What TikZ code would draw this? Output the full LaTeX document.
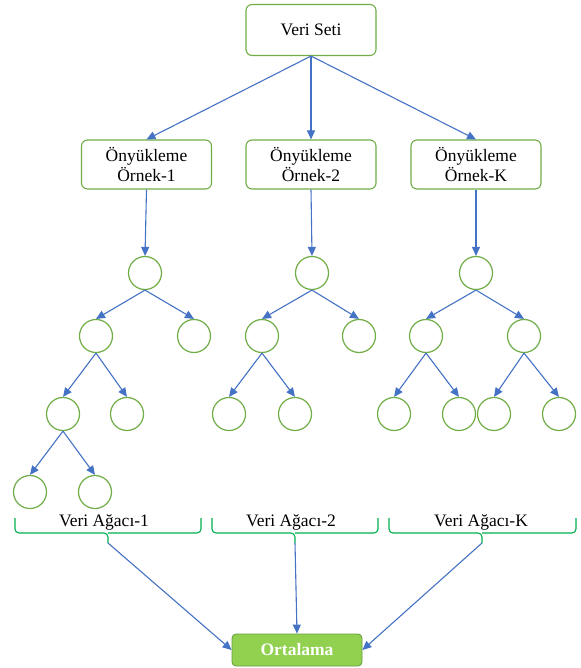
\documentclass[tikz,border=0pt]{standalone}
\usepackage{fontspec}
\setmainfont{Liberation Serif}
\usepackage{xcolor}
\usetikzlibrary{arrows.meta}

\definecolor{boxgreen}{HTML}{70AD47}
\definecolor{bracegreen}{HTML}{00B050}
\definecolor{fillgreen}{HTML}{92D050}
\definecolor{arrowblue}{HTML}{4472C4}

\tikzset{
  databox/.style={draw=boxgreen, line width=1.1pt, rounded corners=6pt, fill=white,
    minimum width=130pt, minimum height=49pt, inner sep=0.75pt, align=center,
    font=\fontsize{17.5}{20}\selectfont},
  treenode/.style={circle, draw=boxgreen, line width=1.2pt, minimum size=33pt, inner sep=0pt},
  link/.style={draw=arrowblue, line width=1.1pt, -{Triangle[length=9pt,width=8pt]}},
  treebrace/.style={draw=bracegreen, line width=1.1pt, rounded corners=4pt},
  bracelabel/.style={inner sep=0.75pt, font=\fontsize{17.5}{20}\selectfont}
}

\begin{document}
\begin{tikzpicture}[x=1pt,y=1pt,yscale=-1,xscale=1]
		\useasboundingbox (0,0) rectangle (580,668);

		% Draw the data set box at the top
		\node[databox, minimum height=51pt] (veri) at (311,30) {Veri Seti};

		% Draw the three bootstrap sample boxes
		\node[databox] (orn1) at (146.5,164.5) {Önyükleme\\Örnek-1};
		\node[databox] (orn2) at (311,164.5) {Önyükleme\\Örnek-2};
		\node[databox] (ornK) at (476,164.5) {Önyükleme\\Örnek-K};

		% Arrows from the data set to the samples
		\draw[link] (veri.south) -- (orn1.north);
		\draw[link] (veri.south) -- (orn2.north);
		\draw[link] (veri.south) -- (ornK.north);

		% The circles of tree 1
		\node[treenode] (a0) at (145,273) {};
		\node[treenode] (a1) at (96,336) {};
		\node[treenode] (a2) at (194,336) {};
		\node[treenode] (a11) at (63,414) {};
		\node[treenode] (a12) at (127,414) {};
		\node[treenode] (a111) at (30,492) {};
		\node[treenode] (a112) at (95,492) {};

		% The circles of tree 2
		\node[treenode] (b0) at (312,273) {};
		\node[treenode] (b1) at (262,336) {};
		\node[treenode] (b2) at (359,336) {};
		\node[treenode] (b11) at (229,414) {};
		\node[treenode] (b12) at (295,414) {};

		% The circles of tree K
		\node[treenode] (c0) at (476,273) {};
		\node[treenode] (c1) at (426,336) {};
		\node[treenode] (c2) at (524,336) {};
		\node[treenode] (c11) at (394,414) {};
		\node[treenode] (c12) at (459,414) {};
		\node[treenode] (c21) at (494,414) {};
		\node[treenode] (c22) at (559,414) {};

		% Arrows from the samples to the tree roots
		\draw[link] (orn1.south) -- (a0.north);
		\draw[link] (orn2.south) -- (b0.north);
		\draw[link] (ornK.south) -- (c0.north);

		% Arrows inside tree 1
		\draw[link] (a0.south) -- (a1.north);
		\draw[link] (a0.south) -- (a2.north);
		\draw[link] (a1.south) -- (a11.north);
		\draw[link] (a1.south) -- (a12.north);
		\draw[link] (a11.south) -- (a111.north);
		\draw[link] (a11.south) -- (a112.north);

		% Arrows inside tree 2
		\draw[link] (b0.south) -- (b1.north);
		\draw[link] (b0.south) -- (b2.north);
		\draw[link] (b1.south) -- (b11.north);
		\draw[link] (b1.south) -- (b12.north);

		% Arrows inside tree K
		\draw[link] (c0.south) -- (c1.north);
		\draw[link] (c0.south) -- (c2.north);
		\draw[link] (c1.south) -- (c11.north);
		\draw[link] (c1.south) -- (c12.north);
		\draw[link] (c2.south) -- (c21.north);
		\draw[link] (c2.south) -- (c22.north);

		% The braces under each tree, with their tips
		\coordinate (t1) at (108,543);
		\coordinate (t2) at (295,543);
		\coordinate (tK) at (482,543);
		\draw[treebrace] (15,518) -- (15,533) -- (108,533) -- (t1);
		\draw[treebrace] (201,518) -- (201,533) -- (108,533);
		\draw[treebrace] (212,518) -- (212,533) -- (295,533) -- (t2);
		\draw[treebrace] (378,518) -- (378,533) -- (295,533);
		\draw[treebrace] (389,518) -- (389,533) -- (482,533) -- (tK);
		\draw[treebrace] (576,518) -- (576,533) -- (482,533);

		% The tree names above the braces
		\node[bracelabel] (lab1) at (104,522) {Veri Ağacı-1};
		\node[bracelabel] (lab2) at (291,522) {Veri Ağacı-2};
		\node[bracelabel] (labK) at (481,522) {Veri Ağacı-K};

		% The averaging box at the bottom
		\node[draw=boxgreen!90!black, line width=0.8pt, fill=fillgreen, rounded corners=4pt,
		  minimum width=130pt, minimum height=32pt, inner sep=0.75pt, text=white,
		  font=\fontsize{17.5}{20}\selectfont\bfseries] (ort) at (297,650) {Ortalama};

		% Arrows from the brace tips to the averaging box
		\draw[link] (t1) -- (ort.west);
		\draw[link] (t2) -- (ort.north);
		\draw[link] (tK) -- (ort.east);
	\end{tikzpicture}
\end{document}
